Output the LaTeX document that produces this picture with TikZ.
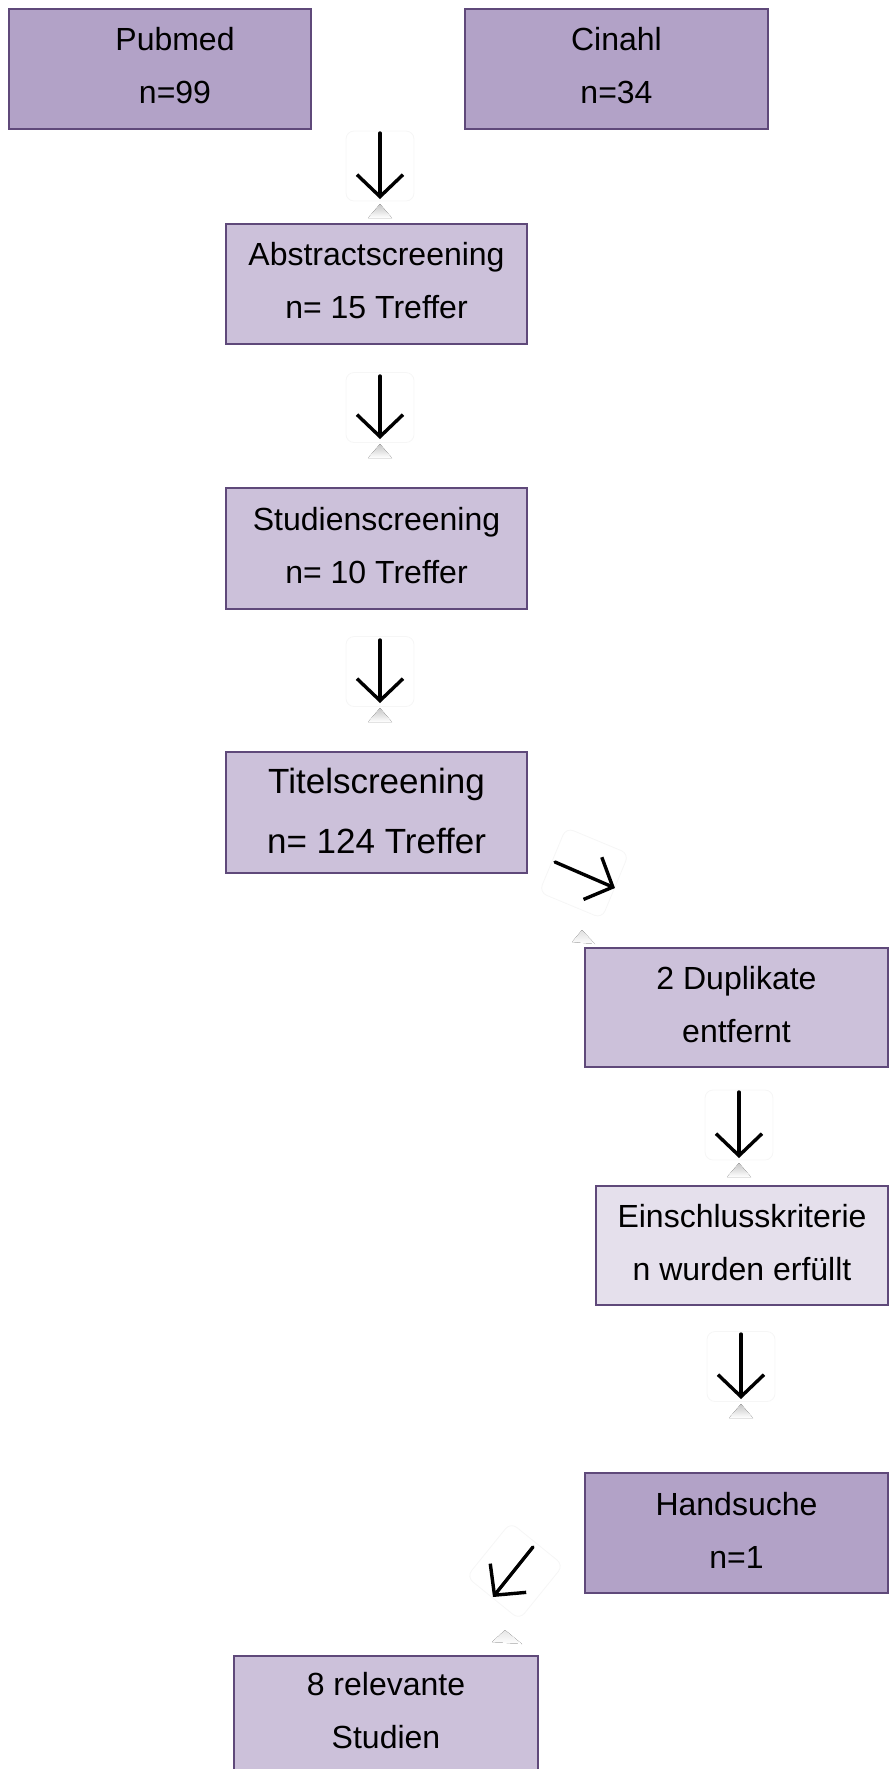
\documentclass[tikz,border=0pt]{standalone}
\usepackage{fontspec}
\setmainfont{Liberation Sans}
\usetikzlibrary{arrows.meta,calc}
\definecolor{bdark}{HTML}{B2A2C7}
\definecolor{blight}{HTML}{CCC1DA}
\definecolor{bpale}{HTML}{E5E0EC}
\definecolor{bline}{HTML}{5F497A}
\begin{document}
\begin{tikzpicture}[x=0.5pt,y=-0.5pt,
  box/.style={draw=bline,line width=1pt,inner sep=0pt,align=center,
    font=\fontsize{16}{26.5}\selectfont},
  txt/.style={inner sep=0pt,align=center,font=\fontsize{16}{26.5}\selectfont},
  icon/.style={draw=gray!7,fill=white,rounded corners=4pt,line width=0.4pt,
    minimum width=34pt,minimum height=35pt,inner sep=0pt},
  arr/.style={line width=1.7pt,line cap=round,
    -{Straight Barb[length=11pt,width=23pt,line width=1.7pt]}},
  refl/.style={top color=gray!45,bottom color=white,draw=none}
]
\useasboundingbox (0,0) rectangle (891,1769);
\clip (0,0) rectangle (891,1769);

% boxes
\node[box,fill=bdark,minimum width=151pt,minimum height=60pt] (pub) at (160,69) {};
\node[txt] (pubt) at (175,66) {Pubmed\\n=99};
\node[box,fill=bdark,minimum width=151.5pt,minimum height=60pt] (cin) at (616.5,69) {};
\node[txt] (cint) at (616.5,66) {Cinahl\\n=34};
\node[box,fill=blight,minimum width=150.5pt,minimum height=60pt] (abs) at (376.5,284) {};
\node[txt] (abst) at (376.5,281) {Abstractscreening\\n= 15 Treffer};
\node[box,fill=blight,minimum width=150.5pt,minimum height=60.5pt] (stu) at (376.5,548.5) {};
\node[txt] (stut) at (376.5,546) {Studienscreening\\n= 10 Treffer};
\node[box,fill=blight,minimum width=150.5pt,minimum height=60.5pt] (tit) at (376.5,812.5) {};
\node[txt,font=\fontsize{17.5}{30}\selectfont] (titt) at (376.5,811) {Titelscreening\\n= 124 Treffer};
\node[box,fill=blight,minimum width=151.5pt,minimum height=59.5pt] (dup) at (736.5,1007.5) {};
\node[txt] (dupt) at (736.5,1005) {2 Duplikate\\entfernt};
\node[box,fill=bpale,minimum width=146pt,minimum height=59.5pt] (ein) at (742,1245.5) {};
\node[txt] (eint) at (742,1243) {Einschlusskriterie\\n wurden erfüllt};
\node[box,fill=bdark,minimum width=151.5pt,minimum height=60pt] (hand) at (736.5,1533) {};
\node[txt] (handt) at (736.5,1530) {Handsuche\\n=1};
\node[box,fill=blight,minimum width=152pt,minimum height=66pt] (rel) at (386,1722) {};
\node[txt] (relt) at (386,1711) {8 relevante\\Studien};

% arrow icons (vertical)
\foreach \n/\x/\ys/\ye in {1/380/133/199, 2/380/376/439, 3/380/640/703, 4/739/1092/1158, 5/741/1334/1399}{
  \node[icon] (i\n) at (\x,{(\ys+\ye)/2}) {};
  \coordinate (s\n) at (\x,\ys);
  \coordinate (e\n) at (\x,\ye);
  \fill[refl] ($(e\n)+(0,5)$) -- ($(e\n)+(-12,19)$) -- ($(e\n)+(12,19)$) -- cycle;
  \draw[arr] (s\n) -- (e\n);
}

% diagonal icons
\node[icon,rotate=-22.6] (i6) at (584,873) {};
\coordinate (s6) at (555,862);
\coordinate (e6) at (615,888);
\fill[top color=gray!25,bottom color=white] (582,930) -- (572,942) -- (595,944) -- cycle;
\draw[arr] (s6) -- (e6);

\node[icon,rotate=-39] (i7) at (515,1571) {};
\coordinate (s7) at (533,1547);
\coordinate (e7) at (493,1597);
\fill[top color=gray!20,bottom color=white] (505,1630) -- (492,1642) -- (522,1644) -- cycle;
\draw[arr] (s7) -- (e7);
\end{tikzpicture}
\end{document}
